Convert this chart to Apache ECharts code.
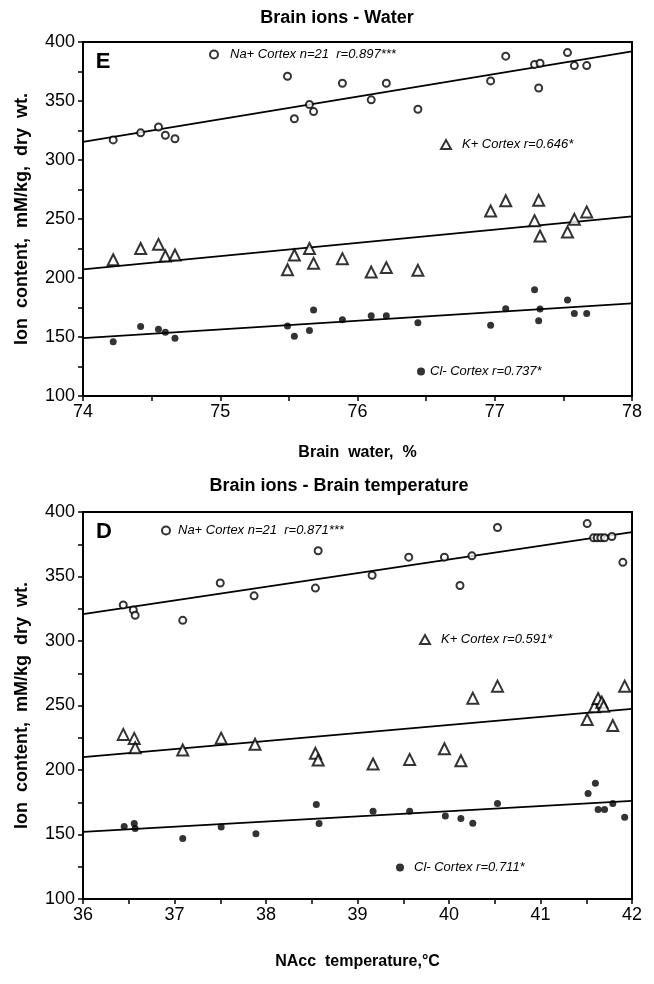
<!DOCTYPE html>
<html>
<head>
<meta charset="utf-8">
<title>Brain ions</title>
<script src="https://cdn.jsdelivr.net/npm/echarts@6.0.0/dist/echarts.min.js"></script>
<style>
  html, body { margin: 0; padding: 0; background: #fff; }
  #chart { width: 654px; height: 984px; }
</style>
</head>
<body>
<div id="chart"></div>
<script>
// ---- panel E: brain water ----
var waterPct = [74.22, 74.42, 74.55, 74.60, 74.67, 75.49, 75.54, 75.65, 75.68, 75.89, 76.10,
  76.21, 76.44, 76.97, 77.08, 77.29, 77.32, 77.33, 77.53, 77.58, 77.67]
var waterNa = [317, 323, 328, 321, 318, 371, 335, 347, 341, 365, 351,
  365, 343, 367, 388, 381, 361, 382, 391, 380, 380]
var waterK = [215.5, 225, 228.5, 218.6, 219.5, 207, 219.5, 225, 212.4, 216.4, 205,
  208.8, 206.5, 256.8, 265.5, 248.6, 265.8, 235.6, 239, 249.7, 256]
var waterCl = [146, 158.8, 156.5, 154, 148.9, 159.3, 150.6, 155.6, 172.9, 164.7, 168,
  168, 162, 160, 174, 190, 163.8, 173.7, 181.4, 170, 170]
// regression lines, values at x = 74 and x = 78
var waterFitX = [74, 78]
var waterFitNa = [315.3, 392]
var waterFitK = [207.3, 252.3]
var waterFitCl = [149, 178.5]

// ---- panel D: NAcc temperature ----
var tempNaX = [36.44, 36.55, 36.57, 37.09, 37.50, 37.87, 38.54, 38.57, 39.16, 39.56, 39.95,
  40.12, 40.25, 40.53, 41.51, 41.58, 41.62, 41.66, 41.70, 41.78, 41.90]
var tempNa = [328, 324, 320, 316, 345, 335, 341, 370, 351, 365, 365,
  343, 366, 388, 391, 380, 380, 380, 380, 381, 361]
var tempKX = [36.44, 36.56, 36.57, 37.09, 37.51, 37.88, 38.54, 38.57, 39.17, 39.57, 39.95,
  40.13, 40.26, 40.53, 41.51, 41.59, 41.63, 41.67, 41.69, 41.79, 41.92]
var tempK = [227.6, 224.5, 217.3, 215.5, 224.7, 220, 212.9, 207.7, 204.6, 208.2, 216.5,
  207.2, 255.7, 265, 239.2, 249, 255.4, 252.6, 249.5, 234.5, 265]
var tempClX = [36.45, 36.56, 36.57, 37.09, 37.51, 37.89, 38.55, 38.58, 39.17, 39.57, 39.96,
  40.13, 40.26, 40.53, 41.52, 41.60, 41.63, 41.70, 41.79, 41.92]
var tempCl = [156.2, 158.5, 154.6, 146.9, 155.9, 150.5, 173.2, 158.5, 168, 168, 164.4,
  162.4, 158.8, 174, 181.7, 189.7, 169.3, 169.3, 174, 163.4]
var tempFitX = [36, 42]
var tempFitNa = [320.8, 384.4]
var tempFitK = [210, 247.4]
var tempFitCl = [152, 176]

// legend texts
var nameNaE = 'Na+ Cortex n=21  r=0.897***'
var nameKE = 'K+ Cortex r=0.646*'
var nameClE = 'Cl- Cortex r=0.737*'
var nameNaD = 'Na+ Cortex n=21  r=0.871***'
var nameKD = 'K+ Cortex r=0.591*'
var nameClD = 'Cl- Cortex r=0.711*'

var font = 'Liberation Sans, Arial, Helvetica, sans-serif'

function zip(xs, ys) {
  return xs.map(function (x, i) { return [x, ys[i]] })
}

function xAxisCfg(grid, min, max, name, gap) {
  return {
    type: 'value', gridIndex: grid, min: min, max: max, interval: 1,
    name: name, nameLocation: 'middle', nameGap: gap,
    nameTextStyle: { color: '#000', fontFamily: font, fontWeight: 'bold', fontSize: 16 },
    axisLine: { lineStyle: { color: '#000', width: 2 } },
    axisTick: { length: 5, lineStyle: { color: '#000', width: 1.5 } },
    minorTick: { show: true, splitNumber: 2, length: 5, lineStyle: { color: '#000', width: 1.5 } },
    axisLabel: { color: '#000', fontFamily: font, fontSize: 18, margin: 7 },
    splitLine: { show: false }
  }
}

function yAxisCfg(grid, name) {
  return {
    type: 'value', gridIndex: grid, min: 100, max: 400, interval: 50,
    name: name, nameLocation: 'middle', nameGap: 52,
    nameTextStyle: { color: '#000', fontFamily: font, fontWeight: 'bold', fontSize: 18 },
    axisLine: { lineStyle: { color: '#000', width: 2 } },
    axisTick: { length: 5, lineStyle: { color: '#000', width: 1.5 } },
    minorTick: { show: true, splitNumber: 2, length: 5, lineStyle: { color: '#000', width: 1.5 } },
    axisLabel: { color: '#000', fontFamily: font, fontSize: 18, margin: 8 },
    splitLine: { show: false }
  }
}

var openStyle = { color: '#fff', borderColor: '#000', borderWidth: 2 }
var dotStyle = { color: '#000' }

function scatter(name, grid, data, symbol, size, style) {
  return {
    name: name, type: 'scatter', xAxisIndex: grid, yAxisIndex: grid,
    symbol: symbol, symbolSize: size, itemStyle: style, data: data, z: 3
  }
}

function fit(grid, xs, ys) {
  return {
    type: 'line', xAxisIndex: grid, yAxisIndex: grid, data: zip(xs, ys),
    symbol: 'none', silent: true, z: 2,
    lineStyle: { color: '#000', width: 1.8 }
  }
}

function legendCfg(name, left, top, icon, w, h, style, pad) {
  return {
    data: [name], left: left, top: top, icon: icon, itemWidth: w, itemHeight: h,
    selectedMode: false, itemStyle: style, padding: 0,
    textStyle: { color: '#000', fontFamily: font, fontStyle: 'italic', fontSize: 13, padding: [0, 0, 0, pad] }
  }
}

function label(text, x, y, size) {
  return {
    type: 'text', x: x, y: y, z: 10,
    style: { text: text, fill: '#000', font: 'bold ' + size + 'px ' + font, align: 'center', verticalAlign: 'middle' }
  }
}

var chart = echarts.init(document.getElementById('chart'))
chart.setOption({
  animation: false,
  backgroundColor: '#fff',
  grid: [
    { left: 83, top: 42, width: 549, height: 354, show: true, borderColor: '#000', borderWidth: 2 },
    { left: 83, top: 512, width: 549, height: 387, show: true, borderColor: '#000', borderWidth: 2 }
  ],
  xAxis: [
    xAxisCfg(0, 74, 78, 'Brain  water,  %', 49),
    xAxisCfg(1, 36, 42, 'NAcc  temperature,°C', 55)
  ],
  yAxis: [
    yAxisCfg(0, 'Ion  content,  mM/kg,  dry  wt.'),
    yAxisCfg(1, 'Ion  content,  mM/kg  dry  wt.')
  ],
  graphic: [
    label('Brain ions - Water', 337, 18, 18),
    label('Brain ions - Brain temperature', 339, 486, 18),
    label('E', 103, 62, 22),
    label('D', 104, 532, 22)
  ],
  legend: [
    legendCfg(nameNaE, 209, 48, 'circle', 8, 8, openStyle, 7),
    legendCfg(nameKE, 440, 138, 'triangle', 10, 9, openStyle, 6),
    legendCfg(nameClE, 417, 365, 'circle', 8, 8, dotStyle, 0),
    legendCfg(nameNaD, 161, 524, 'circle', 8, 8, openStyle, 3),
    legendCfg(nameKD, 419, 633, 'triangle', 10, 9, openStyle, 6),
    legendCfg(nameClD, 396, 861, 'circle', 8, 8, dotStyle, 5)
  ],
  series: [
    fit(0, waterFitX, waterFitNa),
    fit(0, waterFitX, waterFitK),
    fit(0, waterFitX, waterFitCl),
    scatter(nameNaE, 0, zip(waterPct, waterNa), 'circle', 7, openStyle),
    scatter(nameKE, 0, zip(waterPct, waterK), 'triangle', 11, openStyle),
    scatter(nameClE, 0, zip(waterPct, waterCl), 'circle', 7, dotStyle),
    fit(1, tempFitX, tempFitNa),
    fit(1, tempFitX, tempFitK),
    fit(1, tempFitX, tempFitCl),
    scatter(nameNaD, 1, zip(tempNaX, tempNa), 'circle', 7, openStyle),
    scatter(nameKD, 1, zip(tempKX, tempK), 'triangle', 11, openStyle),
    scatter(nameClD, 1, zip(tempClX, tempCl), 'circle', 7, dotStyle)
  ]
})
</script>
</body>
</html>
